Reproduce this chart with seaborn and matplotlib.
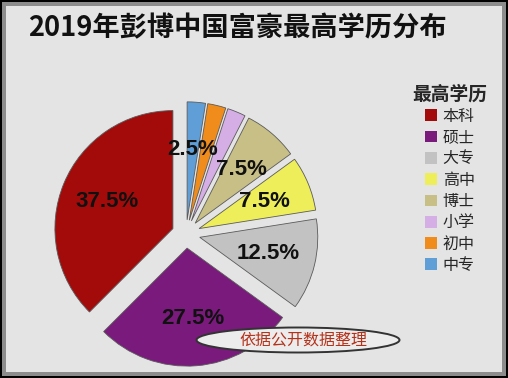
import matplotlib
matplotlib.use("Agg")
import matplotlib.pyplot as plt
from matplotlib.patches import Rectangle, Ellipse
import seaborn as sns

# ---- data ----
categories = ["本科", "硕士", "大专", "高中", "博士", "小学", "初中", "中专"]
shares = [37.5, 27.5, 12.5, 7.5, 7.5, 2.5, 2.5, 2.5]
colors = ["#a30b0b", "#7a1a7c", "#c2c2c2", "#eeee5a", "#c8bf86", "#d6aee6", "#ef8c1c", "#5f9ed6"]
title = "2019年彭博中国富豪最高学历分布"
legend_title = "最高学历"
note = "依据公开数据整理"

sns.set_theme(style="white")
plt.rcParams["font.family"] = ["Noto Sans CJK SC", "DejaVu Sans"]

W, H = 508, 378
fig = plt.figure(figsize=(W / 100, H / 100), dpi=100)
fig.patch.set_facecolor("black")
fig.add_artist(Rectangle((2 / W, 2 / H), 1 - 4 / W, 1 - 4 / H, transform=fig.transFigure,
                         facecolor="#8c8c8c", edgecolor="none", zorder=-10))
fig.add_artist(Rectangle((6 / W, 6 / H), 1 - 12 / W, 1 - 12 / H, transform=fig.transFigure,
                         facecolor="#e4e4e4", edgecolor="none", zorder=-9))

R = 118
cx, cy = 186, H - 234
ax = fig.add_axes([(cx - 1.5 * R) / W, (cy - 1.2 * R) / H, 3 * R / W, 2.4 * R / H])
ax.set_facecolor("none")

explode = [0.12] * len(shares)
wedges, texts, autotexts = ax.pie(
    shares, colors=colors, startangle=90, counterclock=True, explode=explode,
    autopct=lambda p: f"{p:.1f}%", pctdistance=0.6,
    wedgeprops=dict(edgecolor="#5a5a5a", linewidth=0.6),
    textprops=dict(family=["Liberation Sans", "DejaVu Sans"], fontsize=16,
                   fontweight="bold", color="#111111"),
)
# small overlapping labels: keep only the last one, as in the original
small = [i for i, v in enumerate(shares) if v < 5]
for i in small[:-1]:
    autotexts[i].set_visible(False)

ax.set_xlim(-1.5, 1.5)
ax.set_ylim(-1.2, 1.2)
ax.set_aspect("equal", adjustable="box")
ax.axis("off")

fig.text(28 / W, 1 - 28 / H, title, fontsize=19.6, fontweight="bold", color="#111111",
         va="center", ha="left")

leg = fig.legend(wedges, categories, title=legend_title, loc="upper left",
                 bbox_to_anchor=(398 / W, 1 - 70 / H), frameon=False,
                 handlelength=0.75, handleheight=0.75, handletextpad=0.35,
                 labelspacing=0.27, fontsize=11.5, title_fontsize=13.5)
leg.get_title().set_fontweight("bold")
for h in leg.legend_handles:
    h.set_edgecolor("none")

fig.add_artist(Ellipse((298 / W, 1 - 340 / H), 203 / W, 25 / H, transform=fig.transFigure,
                       facecolor="#ececec", edgecolor="#333333", linewidth=1.4, zorder=5))
fig.text(303 / W, 1 - 340 / H, note, fontsize=11.5, color="#b5321a",
         ha="center", va="center", zorder=6)

fig.savefig("out.png", dpi=100, facecolor=fig.get_facecolor())
